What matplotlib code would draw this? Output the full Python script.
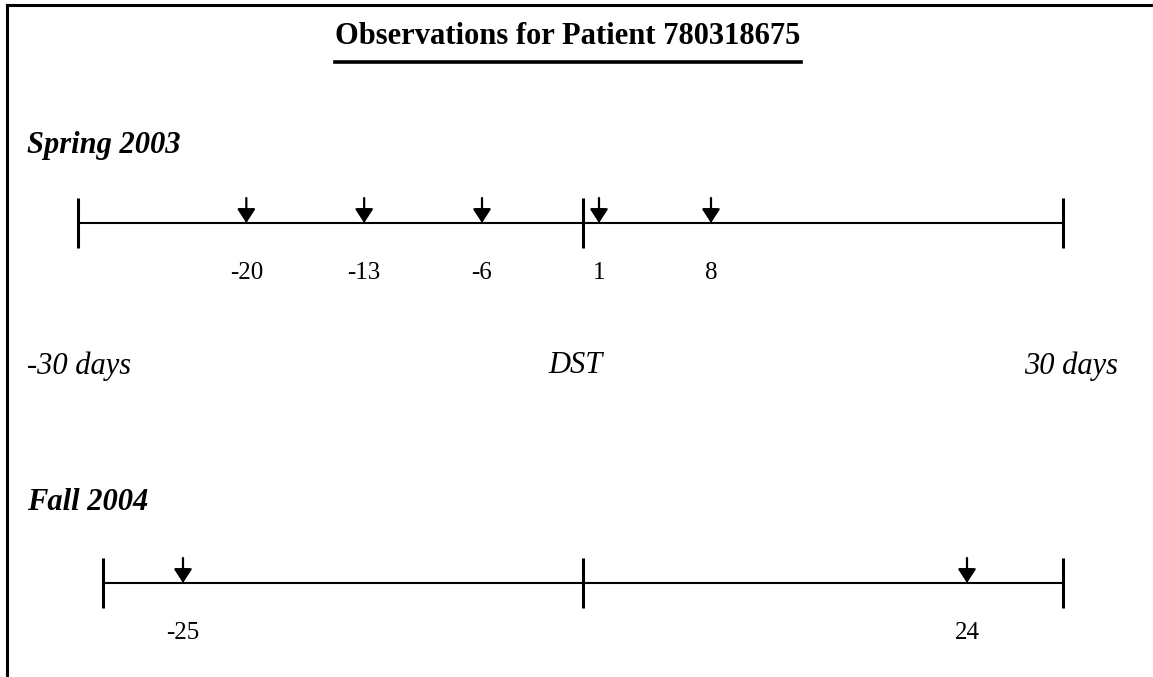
import numpy as np
import matplotlib
matplotlib.use("Agg")
import matplotlib.pyplot as plt
from matplotlib.lines import Line2D

# ---- data ----
title = "Observations for Patient 780318675"
spring_label = "Spring 2003"
fall_label = "Fall 2004"
spring_days = [-20, -13, -6, 1, 8]
fall_days = [-25, 24]
range_days = [-30, 0, 30]
range_labels = ["-30 days", "DST", "30 days"]

W, H = 1153, 677
fig = plt.figure(figsize=(W / 100, H / 100), dpi=100)
plt.rcParams['font.family'] = ['Liberation Serif', 'DejaVu Serif']

def fx(px):
    return px / W

def fy(py):
    return 1 - py / H

# frame (left and top lines)
fig.add_artist(Line2D([fx(7), fx(7)], [fy(5), 0], color='black', lw=2.2, transform=fig.transFigure))
fig.add_artist(Line2D([fx(7), 1], [fy(5), fy(5)], color='black', lw=2.2, transform=fig.transFigure))

# title with underline
t = fig.text(fx(568), fy(37), title, ha='center', va='center', fontsize=22, fontweight='bold')
fig.canvas.draw()
bb = t.get_window_extent(fig.canvas.get_renderer())
fig.add_artist(Line2D([bb.x0 / W, bb.x1 / W], [fy(62), fy(62)], color='black', lw=2.6,
                      transform=fig.transFigure))

fig.text(fx(27), fy(145), spring_label, ha='left', va='center', fontsize=22,
         fontweight='bold', fontstyle='italic')
fig.text(fx(27), fy(503), fall_label, ha='left', va='center', fontsize=22,
         fontweight='bold', fontstyle='italic')

fig.text(fx(27), fy(366), range_labels[0], ha='left', va='center', fontsize=22, fontstyle='italic')
fig.text(fx(575), fy(366), range_labels[1], ha='center', va='center', fontsize=22, fontstyle='italic')
fig.text(fx(1118), fy(366), range_labels[2], ha='right', va='center', fontsize=22, fontstyle='italic')


def make_axes(x0, x1, yline, top=45, bottom=75):
    ax = fig.add_axes([fx(x0), fy(yline + bottom), (x1 - x0) / W, (top + bottom) / H])
    ax.set_ylim(-bottom, top)
    ax.axis('off')
    return ax


def draw_timeline(ax, days):
    lo, hi = range_days[0], range_days[-1]
    ax.plot([lo, hi], [0, 0], color='black', lw=1.5, solid_capstyle='butt', clip_on=False)
    for d in range_days:
        ax.plot([d, d], [-25, 25], color='black', lw=2.2, solid_capstyle='butt', clip_on=False)
    for d in days:
        ax.annotate('', xy=(d, 0), xytext=(d, 25),
                    arrowprops=dict(arrowstyle='-|>,head_length=0.85,head_width=0.55',
                                    color='black', lw=1.6, shrinkA=0, shrinkB=0),
                    annotation_clip=False)
        ax.text(d, -50, str(d), ha='center', va='center', fontsize=18)


# spring timeline (piecewise scale as drawn)
ax1 = make_axes(78, 1063, 223)
px_pts = [0, 505, 985]
fwd = lambda x: np.interp(x, range_days, px_pts)
inv = lambda y: np.interp(y, px_pts, range_days)
ax1.set_xscale('function', functions=(fwd, inv))
ax1.set_xlim(range_days[0], range_days[-1])
draw_timeline(ax1, spring_days)

# fall timeline
ax2 = make_axes(103, 1063, 583)
ax2.set_xlim(range_days[0], range_days[-1])
draw_timeline(ax2, fall_days)

fig.savefig('out.png', dpi=100)
